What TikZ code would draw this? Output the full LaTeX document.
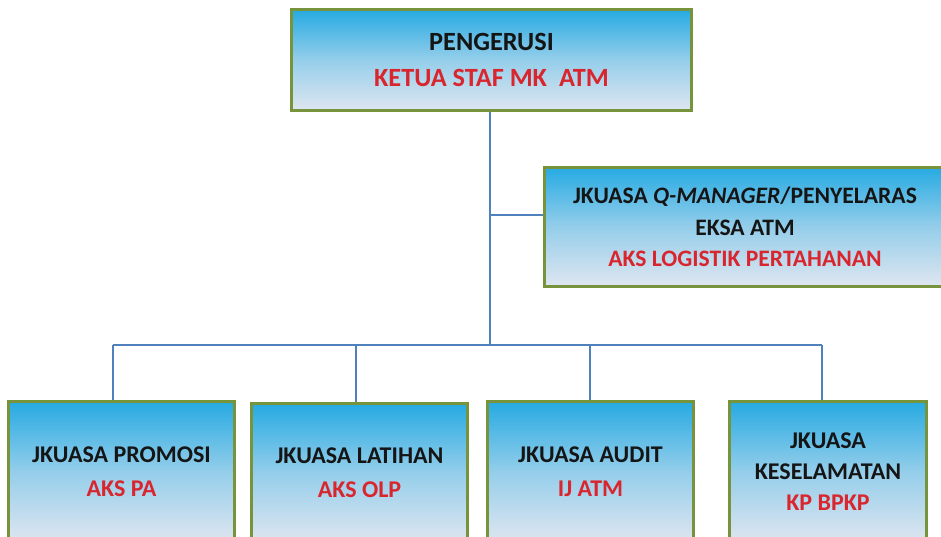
\documentclass[tikz,border=0pt]{standalone}
\usepackage{fontspec}
\setmainfont{Carlito}
\definecolor{boxtop}{HTML}{26AAE2}
\definecolor{boxbot}{HTML}{DFE6F0}
\definecolor{boxedge}{HTML}{77933C}
\definecolor{linkblue}{HTML}{4F81BD}
\definecolor{redtxt}{HTML}{D9262E}
\definecolor{blacktxt}{HTML}{151515}
\tikzset{
  orgbox/.style={draw=boxedge, line width=3pt, top color=boxtop, bottom color=boxbot,
    middle color=boxtop!40!boxbot, align=center, inner sep=0pt, anchor=north west,
    text=blacktxt},
  link/.style={draw=linkblue, line width=1.8pt}
}
\newcommand{\redt}[1]{\textcolor{redtxt}{#1}}
\begin{document}
\begin{tikzpicture}[x=1pt,y=-1pt]
\useasboundingbox (0,0) rectangle (941,537);
\clip (0,0) rectangle (941,537);
\fill[white] (0,0) rectangle (941,537);
% top
\node[orgbox, minimum width=400pt, minimum height=101pt, font=\fontsize{26.3}{36}\selectfont\bfseries] (top) at (290,8)
  {PENGERUSI\\ \redt{KETUA STAF MK\ \ ATM}};
% middle
\node[orgbox, minimum width=401pt, minimum height=119pt, font=\fontsize{23.6}{31.5}\selectfont\bfseries] (mid) at (543,166)
  {JKUASA \textit{Q-MANAGER}/PENYELARAS\\ EKSA ATM\\ \redt{AKS LOGISTIK PERTAHANAN}};
% bottom
\node[orgbox, minimum width=226pt, minimum height=141pt, font=\fontsize{24}{34}\selectfont\bfseries] (b1) at (7,400)
  {JKUASA PROMOSI\\ \redt{AKS PA}};
\node[orgbox, minimum width=216pt, minimum height=139pt, font=\fontsize{24}{34}\selectfont\bfseries] (b2) at (250,402)
  {JKUASA LATIHAN\\ \redt{AKS OLP}};
\node[orgbox, minimum width=206pt, minimum height=141pt, font=\fontsize{24}{34}\selectfont\bfseries] (b3) at (486,400)
  {JKUASA AUDIT\\ \redt{IJ ATM}};
\node[orgbox, minimum width=197pt, minimum height=141pt, font=\fontsize{24}{31}\selectfont\bfseries] (b4) at (728,400)
  {JKUASA\\ KESELAMATAN\\ \redt{KP BPKP}};
% connectors
\coordinate (hub) at (490,345);
\coordinate (tap) at (490,215);
\draw[link] (top.south -| hub) -- (hub);
\draw[link] (tap) -- (tap -| mid.west);
\draw[link] (113,345) -- (822,345);
\draw[link] (113,345) -- (b1.north -| 113,0);
\draw[link] (356,345) -- (b2.north -| 356,0);
\draw[link] (590,345) -- (b3.north -| 590,0);
\draw[link] (822,345) -- (b4.north -| 822,0);
\end{tikzpicture}
\end{document}
